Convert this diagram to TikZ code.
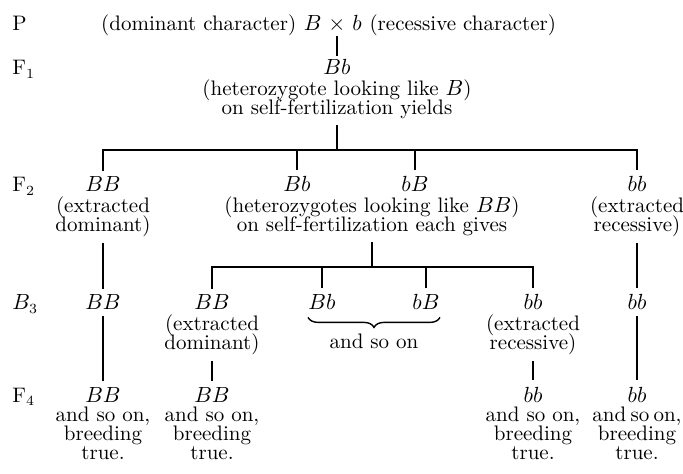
\documentclass[tikz,border=0pt]{standalone}
\usetikzlibrary{positioning, decorations.pathreplacing, calc}

\begin{document}
\begin{tikzpicture}[
    x=0.5pt, y=-0.5pt,
    font={\fontsize{10.5}{9.5}\selectfont\lineskiplimit=-10pt},
    geno/.style={inner sep=0pt, anchor=base},
    word/.style={inner sep=0pt},
    note/.style={inner sep=0pt, align=center},
    rowlab/.style={inner sep=0pt, anchor=base west},
    stem/.style={line width=0.7pt, shorten <=3pt},
    link/.style={line width=0.7pt, shorten <=3pt, shorten >=3pt},
    brc/.style={line width=0.7pt, decorate, decoration={brace, mirror, amplitude=5pt}},
    node distance=2pt
  ]
    \useasboundingbox (0,0) rectangle (683,474);

    % Generation labels
    \node[rowlab] (labP)  at (12,31)  {P};
    \node[rowlab] (labF1) at (12,75)  {F$_1$};
    \node[rowlab] (labF2) at (12,192) {F$_2$};
    \node[rowlab] (labB3) at (12,310) {$B_3$};
    \node[rowlab] (labF4) at (12,402) {F$_4$};

    % Parents
    \node[geno] (cross) at (337,31) {$\times$};
    \node[word, base left=3pt of cross]  (pB)  {$B$};
    \node[word, base right=3pt of cross] (pb)  {$b$};
    \node[word, base left=3.5pt of pB]  (dom) {(dominant character)};
    \node[word, base right=3.5pt of pb] (rec) {(recessive character)};

    % First generation
    \node[geno] (f1) at (337,75) {$Bb$};
    \node[note, below=of f1] (f1n) {(heterozygote looking like $B$)\\on self-fertilization yields};
    \coordinate (j1) at (337,150);

    % Second generation
    \node[geno] (BB2) at (103,192) {$BB$};
    \node[geno] (Bb2) at (297,192) {$Bb$};
    \node[geno] (bB2) at (415,192) {$bB$};
    \node[geno] (bb2) at (637,192) {$bb$};
    \node[note, below=of BB2] (BB2n) {(extracted\\dominant)};
    \node[note, below=of bb2] (bb2n) {(extracted\\recessive)};
    \coordinate (j2) at (372,267);
    \coordinate (mid2) at (Bb2.south -| j2);
    \node[note, below=of mid2] (het) {(heterozygotes looking like $BB$)\\on self-fertilization each gives};

    % Third generation
    \node[geno] (BB3a) at (103,310) {$BB$};
    \node[geno] (BB3)  at (212,310) {$BB$};
    \node[geno] (Bb3)  at (322,310) {$Bb$};
    \node[geno] (bB3)  at (426,310) {$bB$};
    \node[geno] (bb3)  at (533,310) {$bb$};
    \node[geno] (bb3b) at (637,310) {$bb$};
    \node[note, below=of BB3] (BB3n) {(extracted\\dominant)};
    \node[note, below=of bb3] (bb3n) {(extracted\\recessive)};
    \draw[brc] ([yshift=-3.5pt]Bb3.south west) -- ([yshift=-3.5pt]bB3.south east);
    \node[geno] (soon) at ($(Bb3.base)!0.5!(bB3.base)+(0,39)$) {and so on};

    % Fourth generation
    \node[geno] (BB4a) at (103,402) {$BB$};
    \node[geno] (BB4)  at (212,402) {$BB$};
    \node[geno] (bb4)  at (533,402) {$bb$};
    \node[geno] (bb4b) at (637,402) {$bb$};
    \node[note, below=of BB4a] (BB4an) {and so on,\\breeding\\true.};
    \node[note, below=of BB4]  (BB4n)  {and so on,\\breeding\\true.};
    \node[note, below=of bb4]  (bb4n)  {and so on,\\breeding\\true.};
    \node[note, below=of bb4b] (bb4bn) {{\spaceskip=.2em\relax and so on,}\\breeding\\true.};

    % Lines of descent
    \draw[link, shorten <=1.5pt, shorten >=1.5pt] (cross) -- (f1);
    \draw[stem] (f1n) -- (j1);
    \draw[link] (BB2) |- (j1) -| (bb2);
    \draw[stem] (Bb2) -- (Bb2 |- j1);
    \draw[stem] (bB2) -- (bB2 |- j1);
    \draw[stem] (het) -- (j2);
    \draw[link] (BB3) |- (j2) -| (bb3);
    \draw[stem] (Bb3) -- (Bb3 |- j2);
    \draw[stem] (bB3) -- (bB3 |- j2);
    \draw[link] (BB2n) -- (BB3a);
    \draw[link] (bb2n) -- (bb3b);
    \draw[link] (BB3a) -- (BB4a);
    \draw[link] (BB3n) -- (BB4);
    \draw[link] (bb3n) -- (bb4);
    \draw[link] (bb3b) -- (bb4b);

\end{tikzpicture}
\end{document}
